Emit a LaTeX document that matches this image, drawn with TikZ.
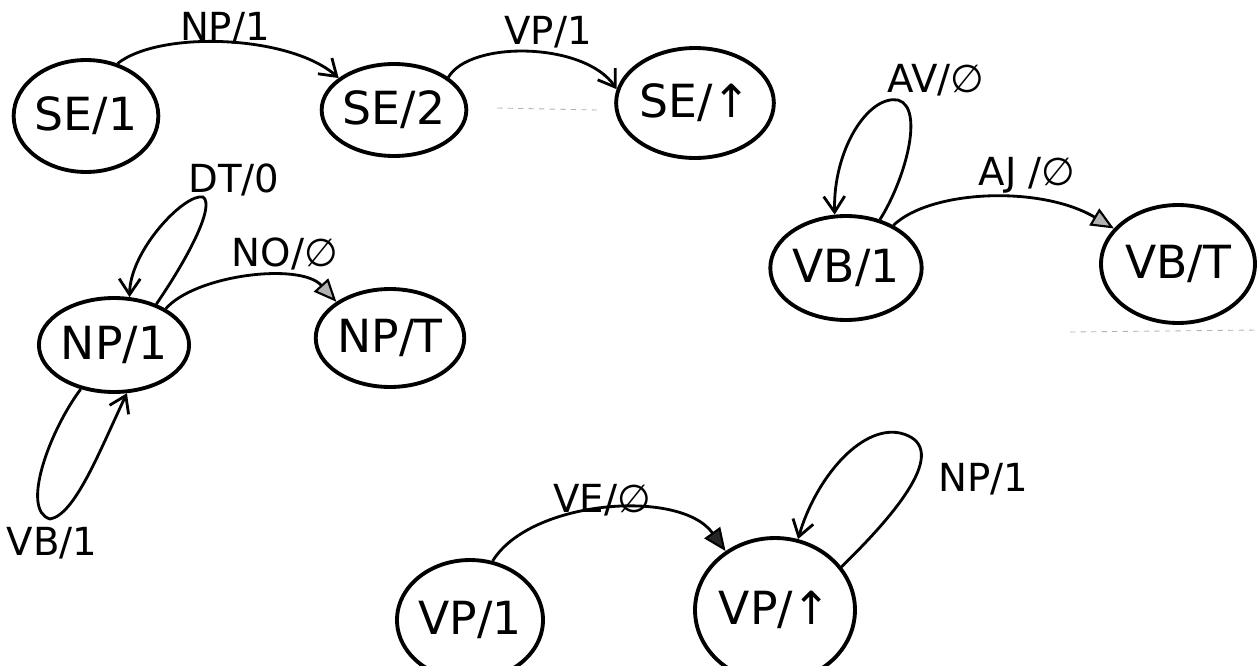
\documentclass[tikz,border=0pt]{standalone}
\usepackage{fontspec}
\setmainfont{DejaVu Sans}
\usetikzlibrary{shapes.geometric,arrows.meta}
\begin{document}
\begin{tikzpicture}[x=0.02cm,y=-0.02cm,
  state/.style={draw,ellipse,line width=2.2pt,inner sep=0pt,font=\fontsize{26}{28}\selectfont},
  lbl/.style={font=\fontsize{22}{24}\selectfont,inner sep=0pt},
  conn/.style={line width=1.6pt},
  barb/.style={-{Straight Barb[length=9pt,width=12pt,line width=1.6pt]}},
  tri/.style={-{Triangle[length=13pt,width=11pt,fill=gray!60,line width=1.2pt]}},
  trifill/.style={-{Triangle[length=13pt,width=11pt,fill=gray!30!black,line width=1.2pt]}},
  noise/.style={gray!60,dashed,line width=0.5pt}
]
\useasboundingbox (0,0) rectangle (1258,666);

% states
\node[state,minimum width=2.76cm,minimum height=2.24cm] (se1) at (86,116) {SE/1};
\node[state,minimum width=2.44cm,minimum height=1.84cm] (se2) at (394,110) {SE/2};
\node[state,minimum width=3.12cm,minimum height=2.2cm] (seT) at (695,103) {SE/↑};
\node[state,minimum width=2.44cm,minimum height=2.08cm] (vb1) at (846,268) {VB/1};
\node[state,minimum width=3.08cm,minimum height=2.36cm] (vbT) at (1178,264) {VB/T};
\node[state,minimum width=2.36cm,minimum height=1.88cm] (np1) at (114,345) {NP/1};
\node[state,minimum width=2.64cm,minimum height=1.96cm] (npT) at (390,338) {NP/T};
\node[state,minimum width=2.4cm,minimum height=2.4cm] (vp1) at (470,620) {VP/1};
\node[state,minimum width=3.2cm,minimum height=2.88cm] (vpT) at (775,610) {VP/↑};

% transitions
\draw[conn,barb] (se1.59) .. controls (160,30) and (290,35) .. (se2.150);
\draw[conn,barb] (se2.31) .. controls (470,40) and (585,42) .. (seT.170);
\draw[conn,barb] (np1.44) .. controls (190,255) and (215,205) .. (203,197) .. controls (185,193) and (130,250) .. (np1.72);
\draw[conn,barb] (np1.233) .. controls (50,430) and (20,510) .. (50,519) .. controls (75,515) and (100,450) .. (np1.285);
\draw[conn,tri] (np1.35) .. controls (195,275) and (300,262) .. (npT.146);
\draw[conn,barb] (vb1.55) .. controls (905,180) and (925,108) .. (898,100) .. controls (868,95) and (833,150) .. (vb1.102);
\draw[conn,tri] (vb1.42) .. controls (930,190) and (1040,185) .. (vbT.151);
\draw[conn,trifill] (vp1.69) .. controls (530,500) and (680,488) .. (vpT.130);
\draw[conn,barb] (vpT.33) .. controls (905,505) and (950,445) .. (900,433) .. controls (860,425) and (815,480) .. (vpT.72);

% labels
\node[lbl] (lse1) at (225,28) {NP/1};
\node[lbl] (lse2) at (548,32) {VP/1};
\node[lbl] (ldt) at (234,180) {DT/0};
\node[lbl] (lno) at (285,254) {NO/∅};
\node[lbl] (lav) at (936,80) {AV/∅};
\node[lbl] (laj) at (1027,175) {AJ /∅};
\node[lbl] (lvb) at (52,543) {VB/1};
\node[lbl] (lve) at (602,500) {VE/∅};
\node[lbl] (lnp) at (983,479) {NP/1};

% scan traces
\draw[noise] (497,108) -- (597,110);
\draw[noise] (1070,332) -- (1258,330);
\end{tikzpicture}
\end{document}
